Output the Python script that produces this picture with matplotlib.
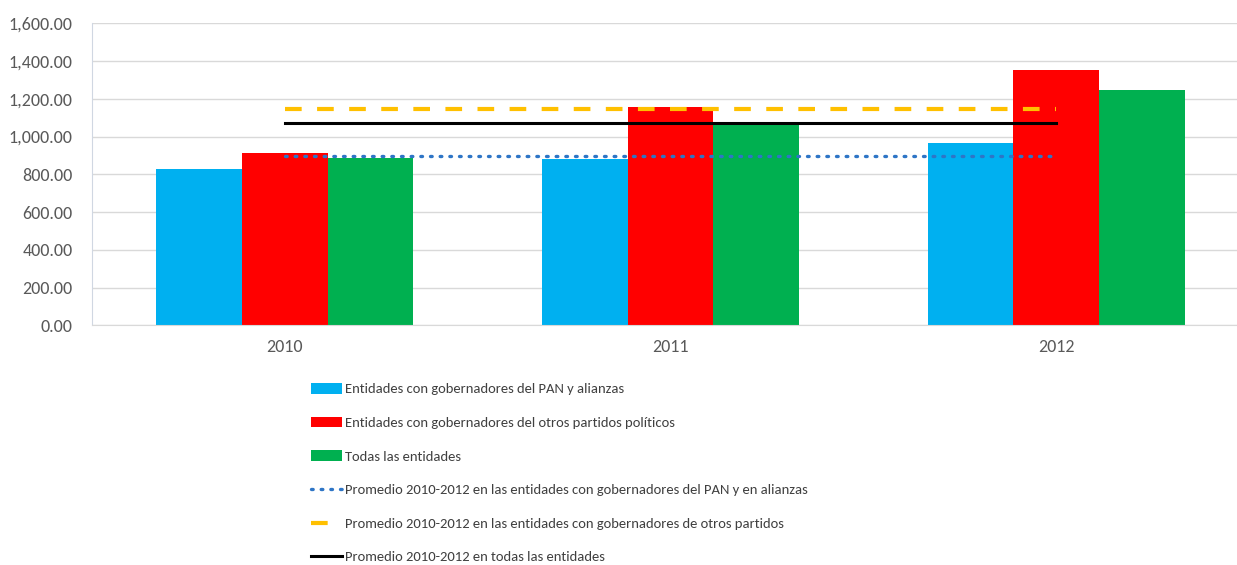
import numpy as np
import matplotlib.pyplot as plt
from matplotlib.ticker import FuncFormatter

plt.rcParams['font.family'] = ['Carlito', 'DejaVu Sans']

years = ["2010", "2011", "2012"]
pan = [828, 879, 967]
otros = [914, 1158, 1351]
todas = [888, 1066, 1247]

prom_pan = 897
prom_otros = 1146
prom_todas = 1073

bar_labels = ["Entidades con gobernadores del PAN y alianzas",
              "Entidades con gobernadores del otros partidos políticos",
              "Todas las entidades"]
line_labels = ["Promedio 2010-2012 en las entidades con gobernadores del PAN y en alianzas",
               "Promedio 2010-2012 en las entidades con gobernadores de otros partidos",
               "Promedio 2010-2012 en todas las entidades"]

fig = plt.figure(figsize=(12.37, 5.65), dpi=100)
ax = fig.add_axes([92 / 1237, 1 - 325.3 / 565, 1157 / 1237, 302 / 565])

x = np.arange(len(years))
w = 0.222
b1 = ax.bar(x - w, pan, w, color='#00B0F0', label=bar_labels[0], zorder=2)
b2 = ax.bar(x, otros, w, color='#FF0000', label=bar_labels[1], zorder=2)
b3 = ax.bar(x + w, todas, w, color='#00B050', label=bar_labels[2], zorder=2)

l1, = ax.plot(x, [prom_pan] * 3, color='#2E75C6', lw=2.4, ls=(0, (0.5, 2.4)),
              dash_capstyle='round', label=line_labels[0], zorder=3)
l2, = ax.plot(x, [prom_otros] * 3, color='#FFC000', lw=3, ls=(0, (4, 3.7)),
              label=line_labels[1], zorder=3)
l3, = ax.plot(x, [prom_todas] * 3, color='black', lw=2.2,
              label=line_labels[2], zorder=3)

ax.set_xlim(-0.5, 2.5)
ax.set_ylim(0, 1600)
ax.set_yticks(np.arange(0, 1601, 200))
ax.yaxis.set_major_formatter(FuncFormatter(lambda v, p: f"{v:,.2f}"))
ax.set_xticks(x)
ax.set_xticklabels(years)
ax.tick_params(length=0, labelsize=13, labelcolor='#595959')
ax.tick_params(axis='x', pad=10)
ax.tick_params(axis='y', pad=14)
ax.grid(axis='y', color='#D9D9D9', lw=1, zorder=0)
for s in ['top', 'right']:
    ax.spines[s].set_visible(False)
ax.spines['left'].set_color('#D0D7E2')
ax.spines['bottom'].set_color('#D9D9D9')

fig.legend([b1, b2, b3, l1, l2, l3], bar_labels + line_labels,
           loc='upper left', bbox_to_anchor=(311 / 1237, 1 - 383 / 565),
           frameon=False, fontsize=10.5, labelcolor='#404040',
           handlelength=2.15, handleheight=0.75, handletextpad=0.2,
           labelspacing=1.45, borderaxespad=0, borderpad=0)

fig.savefig("out.png", dpi=100)
